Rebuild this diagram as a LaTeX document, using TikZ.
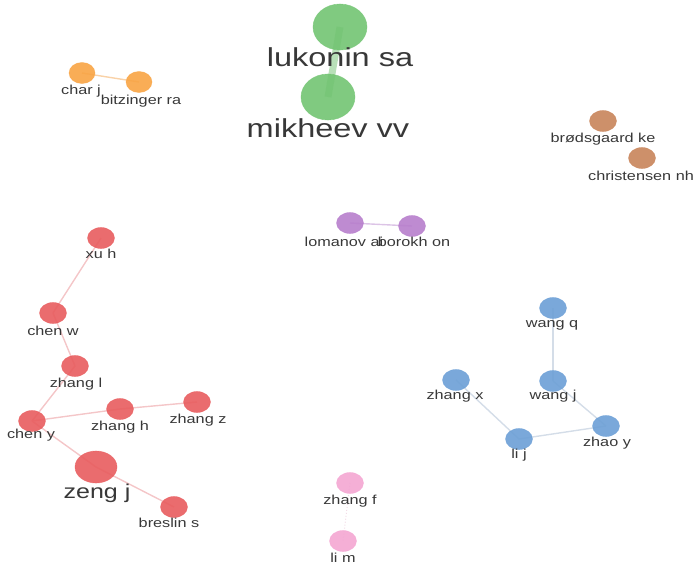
\documentclass[tikz,border=0pt]{standalone}
\usepackage{fontspec}
\usetikzlibrary{shapes.geometric,backgrounds}
\newfontfamily\labfont[FakeStretch=1.25]{Liberation Sans}
\definecolor{cgreen}{HTML}{72C472}
\definecolor{cgreenE}{HTML}{B8E0B8}
\definecolor{corange}{HTML}{F8A444}
\definecolor{corangeE}{HTML}{F9D2A8}
\definecolor{cbrown}{HTML}{C8845A}
\definecolor{cpurple}{HTML}{B77ECC}
\definecolor{cpurpleE}{HTML}{DCC4E6}
\definecolor{cred}{HTML}{E85C5E}
\definecolor{credE}{HTML}{F4C6C8}
\definecolor{cblue}{HTML}{6C9FD6}
\definecolor{cblueE}{HTML}{D4DDE8}
\definecolor{cpink}{HTML}{F4A6D2}
\definecolor{cpinkE}{HTML}{F2DCE6}
\definecolor{labgray}{HTML}{383838}
\begin{document}
\begin{tikzpicture}[x=1pt,y=-1pt,
  nd/.style={ellipse, inner sep=0pt, minimum width=27pt, minimum height=21pt,
    fill opacity=0.9, draw opacity=0.6, line width=0.6pt},
  bignd/.style={nd, minimum width=54pt, minimum height=46pt},
  lbl/.style={font=\labfont\fontsize{13}{13}\selectfont, text=labgray, anchor=base, inner sep=0pt},
  biglbl/.style={lbl, font=\labfont\fontsize{26}{26}\selectfont},
  midlbl/.style={lbl, font=\labfont\fontsize{20}{20}\selectfont},
  edge/.style={line width=1.4pt}]
\useasboundingbox (0,0) rectangle (693,565);
% nodes
\node[bignd, fill=cgreen, draw=cgreen] (luk) at (340,27) {};
\node[bignd, fill=cgreen, draw=cgreen] (mik) at (328,97) {};
\node[nd, fill=corange, draw=corange, minimum width=26pt, minimum height=21pt] (charj) at (82,73) {};
\node[nd, fill=corange, draw=corange, minimum width=26pt, minimum height=21pt] (bitz) at (139,82) {};
\node[nd, fill=cbrown, draw=cbrown] (brod) at (603,121) {};
\node[nd, fill=cbrown, draw=cbrown] (chri) at (642,158) {};
\node[nd, fill=cpurple, draw=cpurple] (loma) at (350,223) {};
\node[nd, fill=cpurple, draw=cpurple] (boro) at (412,226) {};
\node[nd, fill=cred, draw=cred] (xuh) at (101,238) {};
\node[nd, fill=cred, draw=cred] (chenw) at (53,313) {};
\node[nd, fill=cred, draw=cred] (zhangl) at (75,366) {};
\node[nd, fill=cred, draw=cred] (cheny) at (32,421) {};
\node[nd, fill=cred, draw=cred] (zhangh) at (120,409) {};
\node[nd, fill=cred, draw=cred] (zhangz) at (197,402) {};
\node[nd, fill=cred, draw=cred, minimum width=42pt, minimum height=32pt] (zengj) at (96,467) {};
\node[nd, fill=cred, draw=cred] (bres) at (174,507) {};
\node[nd, fill=cblue, draw=cblue] (wangq) at (553,308) {};
\node[nd, fill=cblue, draw=cblue] (wangj) at (553,381) {};
\node[nd, fill=cblue, draw=cblue] (zhangx) at (456,380) {};
\node[nd, fill=cblue, draw=cblue] (lij) at (519,439) {};
\node[nd, fill=cblue, draw=cblue] (zhaoy) at (606,426) {};
\node[nd, fill=cpink, draw=cpink] (zhangf) at (350,483) {};
\node[nd, fill=cpink, draw=cpink] (lim) at (343,541) {};
% edges
\begin{pgfonlayer}{background}
\draw[cgreenE, line width=7pt] (luk.center) -- (mik.center);
\draw[edge, corangeE] (charj.center) -- (bitz.center);
\draw[edge, cpurpleE] (loma.center) -- (boro.center);
\draw[edge, credE] (xuh.center) -- (chenw.center);
\draw[edge, credE] (chenw.center) -- (zhangl.center);
\draw[edge, credE] (zhangl.center) -- (cheny.center);
\draw[edge, credE] (cheny.center) -- (zhangh.center);
\draw[edge, credE] (zhangh.center) -- (zhangz.center);
\draw[edge, credE] (cheny.center) -- (zengj.center);
\draw[edge, credE] (zengj.center) -- (bres.center);
\draw[edge, cblueE] (wangq.center) -- (wangj.center);
\draw[edge, cblueE] (wangj.center) -- (zhaoy.center);
\draw[edge, cblueE] (zhaoy.center) -- (lij.center);
\draw[edge, cblueE] (lij.center) -- (zhangx.center);
\draw[line width=1pt, cpinkE, dotted] (zhangf.center) -- (lim.center);
\end{pgfonlayer}
% labels
\node[biglbl] (lukL) at (340,66) {lukonin sa};
\node[biglbl] (mikL) at (328,137) {mikheev vv};
\node[lbl] (charjL) at (81,94) {char j};
\node[lbl] (bitzL) at (141,104) {bitzinger ra};
\node[lbl] (brodL) at (603,142) {brødsgaard ke};
\node[lbl] (chriL) at (641,180) {christensen nh};
\node[lbl] (lomaL) at (344,246) {lomanov ai};
\node[lbl] (boroL) at (414,246) {borokh on};
\node[lbl] (xuhL) at (101,258) {xu h};
\node[lbl] (chenwL) at (53,335) {chen w};
\node[lbl] (zhanglL) at (76,387) {zhang l};
\node[lbl] (chenyL) at (31,438) {chen y};
\node[lbl] (zhanghL) at (120,430) {zhang h};
\node[lbl] (zhangzL) at (198,423) {zhang z};
\node[midlbl] (zengjL) at (97,498) {zeng j};
\node[lbl] (bresL) at (169,527) {breslin s};
\node[lbl] (wangqL) at (552,327) {wang q};
\node[lbl] (wangjL) at (553,399) {wang j};
\node[lbl] (zhangxL) at (455,399) {zhang x};
\node[lbl] (lijL) at (519,458) {li j};
\node[lbl] (zhaoyL) at (607,446) {zhao y};
\node[lbl] (zhangfL) at (350,504) {zhang f};
\node[lbl] (limL) at (343,562) {li m};
\end{tikzpicture}
\end{document}
